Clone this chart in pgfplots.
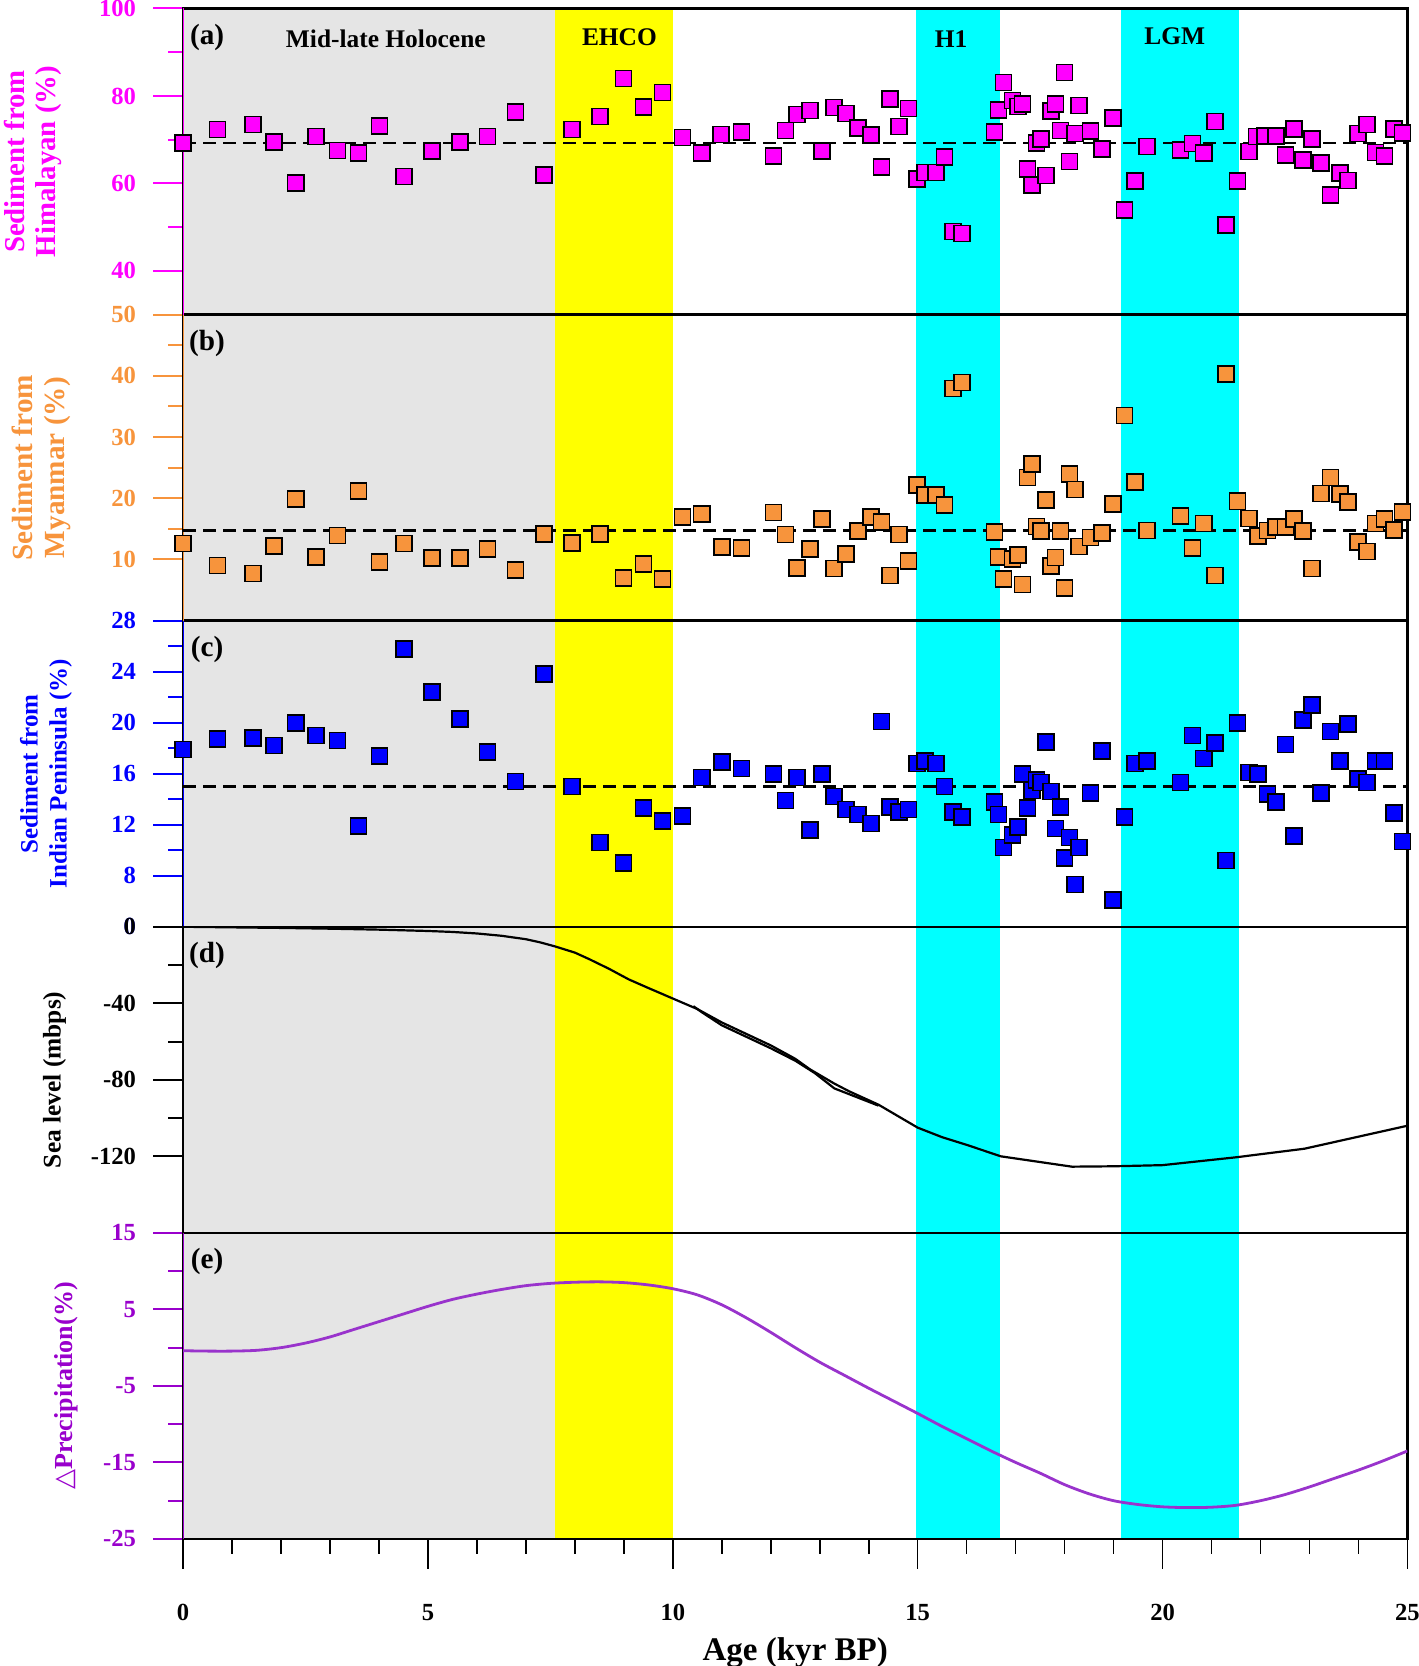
\documentclass[border=0pt]{standalone}
\usepackage{fontspec}
\setmainfont{Liberation Serif}
\newfontfamily\dejavu{DejaVu Sans}
\usepackage{pgfplots}
\pgfplotsset{compat=1.18}
\definecolor{cMag}{RGB}{255,0,255}
\definecolor{cOra}{RGB}{247,148,60}
\definecolor{cBlu}{RGB}{0,0,255}
\definecolor{cPur}{RGB}{153,0,204}
\definecolor{cPurL}{RGB}{153,51,204}
\definecolor{cGry}{RGB}{229,229,229}
\definecolor{cYel}{RGB}{255,255,0}
\definecolor{cCya}{RGB}{0,255,255}

\pgfplotsset{
  panel/.style={
    set layers=standard,
    scale only axis, width=612pt, height=153pt,
    xmin=0, xmax=25,
    axis line style={black, line width=1.2pt},
    tick align=outside,
    ytick pos=left,
    major tick length=15pt, minor tick length=7.5pt,
    /pgf/number format/assume math mode=true,
    yticklabel style={font=\bfseries\fontsize{12.3}{14}\selectfont, xshift=-5pt},
    xtick=\empty,
  },
  sq/.style={only marks, mark=square*, mark size=4pt,
    mark options={fill=#1, draw=black, line width=0.8pt}},
  mean/.style={black, line width=1.2pt, dash pattern=on 6.5pt off 3.5pt},
}
\newcommand{\bands}[2]{%
  \addplot[fill=cGry, draw=none, on layer=axis background, forget plot] coordinates {(0,#1)(7.6,#1)(7.6,#2)(0,#2)};
  \addplot[fill=cYel, draw=none, on layer=axis background, forget plot] coordinates {(7.6,#1)(10.0,#1)(10.0,#2)(7.6,#2)};
  \addplot[fill=cCya, draw=none, on layer=axis background, forget plot] coordinates {(14.97,#1)(16.68,#1)(16.68,#2)(14.97,#2)};
  \addplot[fill=cCya, draw=none, on layer=axis background, forget plot] coordinates {(19.15,#1)(21.57,#1)(21.57,#2)(19.15,#2)};
}
\newcommand{\plab}[1]{\node[font=\bfseries\fontsize{14.6}{16}\selectfont] at (rel axis cs:0.0196,0.905) {#1};}

\begin{document}
\begin{tikzpicture}

% ---------------- (a)
\begin{axis}[panel, at={(0pt,612pt)},
  ymin=30, ymax=100, ytick={40,60,80,100}, minor ytick={50,70,90},
  ytick style={cMag, line width=1pt}, yticklabel style={text=cMag},
  ylabel={Sediment from\\Himalayan (\%)},
  ylabel style={at={(axis description cs:-0.1225,0.5)}, anchor=center, align=center,
    font=\bfseries\fontsize{14.4}{15.6}\selectfont, text=cMag},
]
\bands{30}{100}
\draw[cMag, line width=1.4pt] (rel axis cs:0,0) -- (rel axis cs:0,1);
\addplot[mean] coordinates {(0,69.2) (25,69.2)};
\addplot[sq=cMag] table {
x y
0 69.3
0.70 72.3
1.43 73.5
1.86 69.5
2.30 60.1
2.72 70.7
3.15 67.5
3.58 66.9
4.01 73.1
4.51 61.6
5.08 67.4
5.65 69.5
6.22 70.7
6.79 76.3
7.37 61.9
7.94 72.3
8.51 75.3
8.99 84.0
9.40 77.5
9.79 80.8
10.20 70.5
10.59 66.9
10.98 71.2
11.40 71.8
12.06 66.3
12.30 72.1
12.54 75.8
12.80 76.7
13.05 67.4
13.29 77.4
13.54 76.0
13.78 72.7
14.05 71.1
14.26 63.8
14.44 79.3
14.62 73.0
14.81 77.1
14.99 61.0
15.15 62.5
15.37 62.5
15.55 66.1
15.72 49.0
15.91 48.5
16.57 71.7
16.65 76.8
16.75 83.1
16.94 79.0
17.05 77.6
17.14 78.2
17.24 63.3
17.34 59.6
17.43 69.2
17.52 70.2
17.62 61.8
17.72 76.6
17.81 78.1
17.92 72.1
18.00 85.4
18.10 65.0
18.21 71.4
18.29 77.8
18.53 72.0
18.76 67.9
18.99 75.0
19.22 53.9
19.44 60.5
19.68 68.4
20.37 67.6
20.61 69.1
20.84 66.9
21.07 74.2
21.30 50.5
21.53 60.5
21.76 67.3
21.92 70.7
22.09 70.8
22.32 70.9
22.51 66.5
22.68 72.4
22.87 65.3
23.05 70.2
23.24 64.7
23.43 57.3
23.62 62.4
23.79 60.7
23.99 71.4
24.18 73.5
24.35 67.1
24.53 66.3
24.72 72.4
24.90 71.5
};
\plab{(a)}
\node[font=\bfseries\fontsize{12.7}{14}\selectfont] at (axis cs:4.14,93.1) {Mid-late Holocene};
\node[font=\bfseries\fontsize{12.7}{14}\selectfont] at (axis cs:8.91,93.4) {EHCO};
\node[font=\bfseries\fontsize{12.7}{14}\selectfont] at (axis cs:15.68,93.1) {H1};
\node[font=\bfseries\fontsize{12.7}{14}\selectfont] at (axis cs:20.25,93.6) {LGM};
\end{axis}

% ---------------- (b)
\begin{axis}[panel, at={(0pt,459pt)},
  ymin=0, ymax=50, ytick={10,20,30,40,50}, minor ytick={15,25,35,45},
  ytick style={cOra, line width=1pt}, yticklabel style={text=cOra},
  ylabel={Sediment from\\Myanmar (\%)},
  ylabel style={at={(axis description cs:-0.116,0.5)}, anchor=center, align=center,
    font=\bfseries\fontsize{14.6}{16}\selectfont, text=cOra},
]
\bands{0}{50}
\draw[cOra, line width=1.4pt] (rel axis cs:0,0) -- (rel axis cs:0,1);
\addplot[mean] coordinates {(0,14.7) (25,14.7)};
\addplot[sq=cOra] table {
x y
0 12.6
0.70 9.0
1.43 7.7
1.86 12.2
2.30 19.9
2.72 10.4
3.15 13.9
3.58 21.2
4.01 9.6
4.51 12.6
5.08 10.2
5.65 10.2
6.22 11.7
6.79 8.3
7.37 14.2
7.94 12.7
8.51 14.2
8.99 7.0
9.40 9.3
9.79 6.8
10.20 16.9
10.59 17.4
11.01 12.0
11.40 11.9
12.06 17.7
12.30 14.1
12.54 8.6
12.80 11.7
13.05 16.6
13.29 8.5
13.54 10.9
13.78 14.6
14.05 16.9
14.26 16.1
14.44 7.4
14.62 14.1
14.81 9.7
14.99 22.2
15.15 20.5
15.37 20.5
15.55 18.9
15.72 37.9
15.91 38.9
16.57 14.5
16.65 10.4
16.75 6.8
16.94 10.1
17.05 10.7
17.14 5.9
17.24 23.4
17.34 25.6
17.43 15.4
17.52 14.6
17.62 19.7
17.72 8.9
17.81 10.3
17.92 14.6
18.00 5.3
18.10 24.0
18.21 21.4
18.29 12.1
18.53 13.6
18.76 14.3
18.99 19.1
19.22 33.5
19.44 22.7
19.68 14.7
20.37 17.1
20.61 11.9
20.84 15.9
21.07 7.4
21.30 40.3
21.53 19.5
21.76 16.7
21.95 13.8
22.14 14.7
22.32 15.3
22.51 15.3
22.68 16.6
22.87 14.6
23.05 8.5
23.24 20.8
23.43 23.4
23.62 20.7
23.79 19.4
23.99 12.9
24.18 11.3
24.35 15.9
24.53 16.6
24.72 14.8
24.90 17.8
};
\plab{(b)}
\end{axis}

% ---------------- (c)
\begin{axis}[panel, at={(0pt,306pt)},
  ymin=4, ymax=28, ytick={4,8,12,16,20,24,28}, yticklabels={0,8,12,16,20,24,28},
  minor ytick={10,14,18,22,26},
  ytick style={cBlu, line width=1pt}, yticklabel style={text=cBlu},
  ylabel={Sediment from\\Indian Peninsula (\%)},
  ylabel style={at={(axis description cs:-0.112,0.5)}, anchor=center, align=center,
    font=\bfseries\fontsize{12.5}{14.5}\selectfont, text=cBlu},
]
\bands{4}{28}
\draw[cBlu, line width=1.4pt] (rel axis cs:0,0) -- (rel axis cs:0,1);
\addplot[mean] coordinates {(0,15.0) (25,15.0)};
\addplot[sq=cBlu] table {
x y
0 17.9
0.70 18.7
1.43 18.8
1.86 18.2
2.30 20.0
2.72 19.0
3.15 18.6
3.58 11.9
4.01 17.4
4.51 25.8
5.08 22.4
5.65 20.3
6.22 17.7
6.79 15.4
7.37 23.8
7.94 15.0
8.51 10.6
8.99 9.0
9.40 13.3
9.79 12.3
10.20 12.7
10.59 15.7
11.01 16.9
11.40 16.4
12.06 16.0
12.30 13.9
12.54 15.7
12.80 11.6
13.05 16.0
13.29 14.2
13.54 13.2
13.78 12.8
14.05 12.1
14.26 20.1
14.44 13.4
14.62 13.0
14.81 13.2
14.99 16.8
15.15 17.0
15.37 16.8
15.55 15.0
15.72 13.0
15.91 12.6
16.57 13.8
16.65 12.8
16.75 10.2
16.94 11.2
17.05 11.8
17.14 16.0
17.24 13.3
17.34 14.7
17.43 15.5
17.52 15.3
17.62 18.5
17.72 14.6
17.81 11.7
17.92 13.4
18.00 9.4
18.10 11.0
18.21 7.3
18.29 10.2
18.53 14.5
18.76 17.8
18.99 6.1
19.22 12.6
19.44 16.8
19.68 17.0
20.37 15.3
20.61 19.0
20.84 17.2
21.07 18.4
21.30 9.2
21.53 20.0
21.76 16.1
21.95 16.0
22.14 14.4
22.32 13.8
22.51 18.3
22.68 11.1
22.87 20.2
23.05 21.4
23.24 14.5
23.43 19.3
23.62 17.0
23.79 19.9
23.99 15.6
24.18 15.3
24.35 17.0
24.53 17.0
24.72 12.9
24.90 10.7
};
\plab{(c)}
\end{axis}

% ---------------- (d)
\begin{axis}[panel, at={(0pt,153pt)},
  ymin=-160, ymax=0, ytick={-120,-80,-40,0}, minor ytick={-100,-60,-20},
  ytick style={black, line width=1pt}, yticklabel style={text=black},
  ylabel={Sea level (mbps)},
  ylabel style={at={(axis description cs:-0.105,0.5)}, anchor=center,
    font=\bfseries\fontsize{12.7}{14}\selectfont, text=black},
]
\bands{-160}{0}
\addplot[black, line width=1.1pt] coordinates {
(0,0) (1,-0.3) (2,-0.6) (3,-1) (4,-1.5) (5,-2.2) (5.5,-2.7) (6,-3.5) (6.5,-4.7)
(7,-6.5) (7.3,-8.2) (7.6,-10.3) (8,-13.5) (8.3,-17) (8.7,-22) (9.1,-27.5) (9.5,-32)
(10,-37.5) (10.5,-43) (11,-50) (11.5,-56) (12,-62) (12.5,-69) (12.8,-74.5) (13.1,-79)
(13.3,-82) (13.6,-86) (14.2,-93) (15,-105) (15.5,-110) (16,-114) (16.7,-120)
(18.15,-125.4) (19,-125.2) (20,-124.6) (21.5,-120.5) (22.9,-116) (25,-104)};
\addplot[black, line width=1.1pt] coordinates {
(10.42,-41.5) (10.6,-44.8) (11,-51.5) (11.5,-57.5) (12,-63.5) (12.5,-70) (12.9,-76.5)
(13.3,-84.5) (13.6,-87.5) (14.2,-93.5)};
\plab{(d)}
\end{axis}

% ---------------- (e)
\begin{axis}[panel, at={(0pt,0pt)},
  ymin=-25, ymax=15, ytick={-25,-15,-5,5,15}, minor ytick={-20,-10,0,10},
  ytick style={cPur, line width=1pt}, yticklabel style={text=cPur},
  xtick={0,5,10,15,20,25}, minor x tick num=4, xtick pos=bottom,
  xtick style={black, line width=0.8pt},
  xticklabel style={font=\bfseries\fontsize{12.3}{14}\selectfont, yshift=-14pt},
  xlabel={Age (kyr BP)},
  xlabel style={at={(axis description cs:0.5,-0.37)}, anchor=center,
    font=\bfseries\fontsize{16.5}{18}\selectfont},
  ylabel={{\dejavu\mdseries △}Precipitation(\%)},
  ylabel style={at={(axis description cs:-0.0956,0.5)}, anchor=center,
    font=\bfseries\fontsize{13}{15}\selectfont, text=cPur},
]
\bands{-25}{15}
\draw[cPur, line width=1.4pt] (rel axis cs:0,0) -- (rel axis cs:0,1);
\addplot[cPurL, line width=1.4pt, smooth] coordinates {
(0,-0.4) (0.5,-0.45) (1,-0.45) (1.5,-0.35) (2,0) (2.5,0.6) (3,1.4) (3.5,2.4) (4,3.4)
(4.5,4.4) (5,5.4) (5.5,6.3) (6,7.0) (6.5,7.6) (7,8.1) (7.5,8.4) (8,8.55) (8.5,8.6)
(9,8.5) (9.5,8.2) (10,7.7) (10.5,6.9) (11,5.6) (11.5,3.9) (12,2.0) (12.5,0.0)
(13,-1.9) (13.5,-3.6) (14,-5.3) (14.5,-6.95) (15,-8.6) (15.5,-10.3) (16,-11.9)
(16.5,-13.5) (17,-15.0) (17.5,-16.4) (18,-17.9) (18.5,-19.1) (19,-20.0) (19.5,-20.5)
(20,-20.8) (20.5,-20.9) (21,-20.85) (21.5,-20.6) (22,-20.0) (22.5,-19.2) (23,-18.2)
(23.5,-17.1) (24,-16.0) (24.5,-14.8) (25,-13.5)};
\plab{(e)}
\end{axis}

\pgfresetboundingbox
\useasboundingbox (-91.5pt,-63.5pt) rectangle (617.5pt,769.25pt);
\end{tikzpicture}
\end{document}
